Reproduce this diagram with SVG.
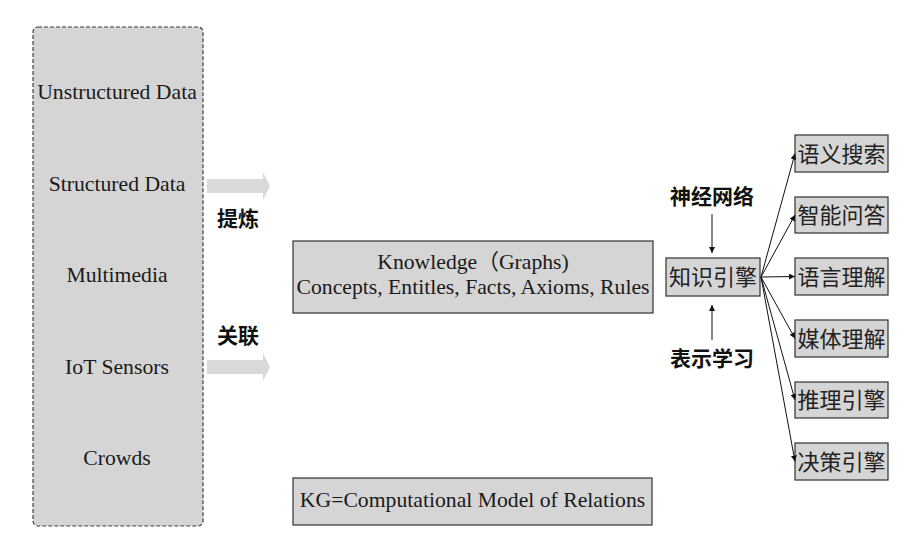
<svg xmlns="http://www.w3.org/2000/svg" width="920" height="541" viewBox="0 0 920 541">
<style>
.box{fill:#d5d5d5;stroke:#404040;stroke-width:1.3}
.src{fill:#d5d5d5;stroke:#404040;stroke-width:1.2;stroke-dasharray:4 2}
.en{font-size:21.7px;fill:#1a1a1a;text-anchor:middle}
.cn{font-size:22px;fill:#222;text-anchor:middle}
.cb{font-size:21px;font-weight:bold;fill:#111}
.blk{fill:#d9d9d9}
.ln{stroke:#111;stroke-width:1;fill:none;marker-end:url(#ah)}
</style>
<defs>
<marker id="ah" viewBox="0 0 10 10" refX="10" refY="5" markerWidth="6" markerHeight="6" markerUnits="userSpaceOnUse" orient="auto">
<path d="M0,0 L10,5 L0,10 z" fill="#111"/>
</marker>
</defs>
<rect width="920" height="541" fill="#fff"/>
<g id="sources" font-family="Liberation Serif">
<rect class="src" x="33" y="27" width="170" height="499" rx="5"/>
<text class="en" x="117" y="99">Unstructured Data</text>
<text class="en" x="117" y="191">Structured Data</text>
<text class="en" x="117" y="282">Multimedia</text>
<text class="en" x="117" y="374">IoT Sensors</text>
<text class="en" x="117" y="465">Crowds</text>
</g>
<g id="arrow-refine" font-family="Noto Sans CJK SC">
<polygon class="blk" points="207,179 263,179 263,172 270,186 263,200 263,193 207,193"/>
<text class="cb" x="217" y="226">提炼</text>
</g>
<g id="arrow-link" font-family="Noto Sans CJK SC">
<polygon class="blk" points="207,360 263,360 263,353 270,367 263,381 263,374 207,374"/>
<text class="cb" x="217" y="343">关联</text>
</g>
<g id="knowledge" font-family="Liberation Serif">
<rect class="box" x="293" y="241" width="360" height="72"/>
<text class="en" x="473" y="269">Knowledge<tspan font-family="Noto Sans CJK SC">（</tspan>Graphs)</text>
<text class="en" x="473" y="294" font-size="21.4">Concepts, Entitles, Facts, Axioms, Rules</text>
</g>
<g id="kg" font-family="Liberation Serif">
<rect class="box" x="293" y="478" width="359" height="47"/>
<text class="en" x="472.5" y="507">KG=Computational Model of Relations</text>
</g>
<g id="engine" font-family="Noto Sans CJK SC">
<rect class="box" x="666" y="258" width="94" height="38"/>
<text class="cn" x="713" y="285">知识引擎</text>
</g>
<g id="neural" font-family="Noto Sans CJK SC">
<text class="cb" x="712" y="204" text-anchor="middle" font-size="22">神经网络</text>
</g>
<g id="repr" font-family="Noto Sans CJK SC">
<text class="cb" x="712" y="366" text-anchor="middle" font-size="22">表示学习</text>
</g>
<g font-family="Noto Sans CJK SC">
<g id="app1"><rect class="box" x="795" y="135" width="93" height="37"/><text class="cn" x="841.5" y="161.5">语义搜索</text></g>
<g id="app2"><rect class="box" x="795" y="197" width="93" height="36"/><text class="cn" x="841.5" y="223">智能问答</text></g>
<g id="app3"><rect class="box" x="795" y="258" width="93" height="37"/><text class="cn" x="841.5" y="284.5">语言理解</text></g>
<g id="app4"><rect class="box" x="795" y="320" width="93" height="37"/><text class="cn" x="841.5" y="346.5">媒体理解</text></g>
<g id="app5"><rect class="box" x="795" y="382" width="93" height="36"/><text class="cn" x="841.5" y="408">推理引擎</text></g>
<g id="app6"><rect class="box" x="795" y="443" width="93" height="37"/><text class="cn" x="841.5" y="469.5">决策引擎</text></g>
</g>
<g id="connectors">
<line class="ln" x1="712" y1="214" x2="712" y2="253"/>
<line class="ln" x1="712" y1="340" x2="712" y2="305"/>
<line class="ln" x1="761" y1="277" x2="795" y2="153.5"/>
<line class="ln" x1="761" y1="277" x2="795" y2="215"/>
<line class="ln" x1="761" y1="277" x2="795" y2="276.5"/>
<line class="ln" x1="761" y1="277" x2="795" y2="338.5"/>
<line class="ln" x1="761" y1="277" x2="795" y2="400"/>
<line class="ln" x1="761" y1="277" x2="795" y2="461.5"/>
</g>
</svg>
